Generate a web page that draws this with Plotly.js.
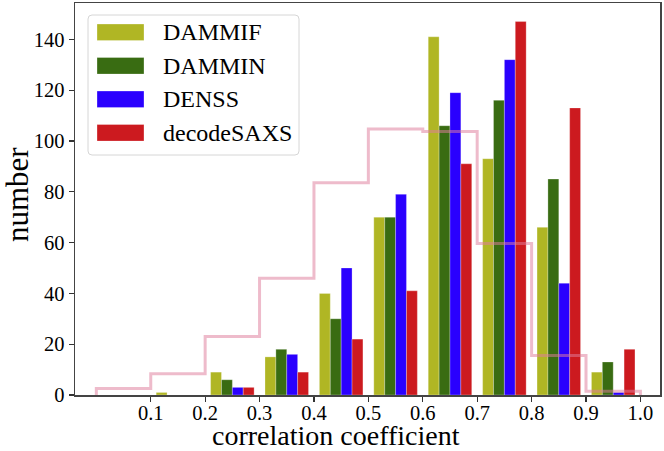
<!DOCTYPE html>
<html>
<head>
<meta charset="utf-8">
<script src="https://cdn.plot.ly/plotly-3.0.1.min.js"></script>
<style>html,body{margin:0;padding:0;background:#fff;}#chart{width:664px;height:451px;}</style>
</head>
<body>
<div id="chart"></div>
<script>
// Bin left edges (correlation coefficient)
var binStarts = [0.0, 0.1, 0.2, 0.3, 0.4, 0.5, 0.6, 0.7, 0.8, 0.9];
var binEdges = [0.0, 0.1, 0.2, 0.3, 0.4, 0.5, 0.6, 0.7, 0.8, 0.9, 1.0];
var seriesNames = ["DAMMIF", "DAMMIN", "DENSS", "decodeSAXS"];
var dammif = [0, 1, 9, 15, 40, 70, 141, 93, 66, 9];
var dammin = [0, 0, 6, 18, 30, 70, 106, 116, 85, 13];
var denss = [0, 0, 3, 16, 50, 79, 119, 132, 44, 1];
var decodesaxs = [0, 0, 3, 9, 22, 41, 91, 147, 113, 18];
var reference = [2.6, 8.4, 23, 46, 83.5, 104.7, 103.7, 59.6, 15.5, 1.5];
var xTickVals = [0.1, 0.2, 0.3, 0.4, 0.5, 0.6, 0.7, 0.8, 0.9, 1.0];
var xTickText = ["0.1", "0.2", "0.3", "0.4", "0.5", "0.6", "0.7", "0.8", "0.9", "1.0"];
var yTickVals = [0, 20, 40, 60, 80, 100, 120, 140];
var xTitle = "correlation coefficient";
var yTitle = "number";

var colors = ["#b0b624", "#396c12", "#2a00fe", "#cc1a1f"];
var allSeries = [dammif, dammin, denss, decodesaxs];
var barW = 0.02;
var FONT = "Liberation Serif, Times New Roman, serif";

var traces = [];
allSeries.forEach(function (vals, i) {
  traces.push({
    type: "bar",
    name: seriesNames[i],
    x: binStarts,
    y: vals,
    width: barW,
    offset: 0.01 + i * barW,
    marker: {color: colors[i], line: {width: 0.6, color: "rgba(255,255,255,0.45)"}},
    showlegend: false,
    hoverinfo: "x+y+name"
  });
});

// step outline
var sx = [binEdges[0]], sy = [0];
for (var k = 0; k < reference.length; k++) { sx.push(binEdges[k]); sy.push(reference[k]); }
sx.push(binEdges[binEdges.length - 1]); sy.push(reference[reference.length - 1]);
sx.push(binEdges[binEdges.length - 1]); sy.push(0);
traces.push({
  type: "scatter", mode: "lines", x: sx, y: sy,
  line: {shape: "hv", color: "rgba(222,125,155,0.52)", width: 3},
  showlegend: false, hoverinfo: "skip"
});

// custom legend (plot area: x 75..660, y 3..395 px)
var L = 75, R = 660, T = 3, B = 395;
function px(x) { return (x - L) / (R - L); }
function py(y) { return (B - y) / (B - T); }
var shapes = [];
var annotations = [];
var bx0 = px(88), bx1 = px(299), by0 = py(155), by1 = py(15);
var rx = 4 / (R - L), ry = 4 / (B - T);
shapes.push({
  type: "path", xref: "paper", yref: "paper",
  path: "M " + (bx0 + rx) + "," + by1 + " L " + (bx1 - rx) + "," + by1 +
        " Q " + bx1 + "," + by1 + " " + bx1 + "," + (by1 - ry) +
        " L " + bx1 + "," + (by0 + ry) + " Q " + bx1 + "," + by0 + " " + (bx1 - rx) + "," + by0 +
        " L " + (bx0 + rx) + "," + by0 + " Q " + bx0 + "," + by0 + " " + bx0 + "," + (by0 + ry) +
        " L " + bx0 + "," + (by1 - ry) + " Q " + bx0 + "," + by1 + " " + (bx0 + rx) + "," + by1 + " Z",
  line: {color: "#d6d6d6", width: 1}, fillcolor: "rgba(255,255,255,0.85)", layer: "above"
});
seriesNames.forEach(function (nm, i) {
  var cy = 32.3 + i * 33.5;
  shapes.push({
    type: "rect", xref: "paper", yref: "paper",
    x0: px(97), x1: px(144), y0: py(cy + 8.3), y1: py(cy - 8.3),
    fillcolor: colors[i], line: {width: 0.6, color: "rgba(255,255,255,0.5)"}, layer: "above"
  });
  annotations.push({
    xref: "paper", yref: "paper", x: px(161), y: py(cy), xanchor: "left", yanchor: "middle",
    text: nm, showarrow: false,
    font: {family: FONT, size: 24, color: "#000"}
  });
});
// axis titles
annotations.push({
  xref: "paper", yref: "paper", x: px(336), y: py(452), xanchor: "center", yanchor: "bottom",
  text: xTitle, showarrow: false, font: {family: FONT, size: 28, color: "#000"}, borderpad: 0
});
annotations.push({
  xref: "paper", yref: "paper", x: px(17), y: py(195), xanchor: "center", yanchor: "middle",
  text: yTitle, textangle: -90, showarrow: false, font: {family: FONT, size: 31, color: "#000"}
});

var layout = {
  width: 664, height: 451,
  margin: {l: 75, r: 4, t: 3, b: 56},
  paper_bgcolor: "#fff", plot_bgcolor: "#fff",
  barmode: "overlay",
  font: {family: FONT, color: "#000"},
  xaxis: {
    range: [-0.0392, 1.036],
    tickvals: xTickVals, ticktext: xTickText,
    ticks: "outside", ticklen: 5, tickwidth: 1.2, tickcolor: "#333",
    ticklabelstandoff: -6,
    showline: true, linecolor: "#444", linewidth: 1.5, mirror: true,
    showgrid: false, zeroline: false,
    tickfont: {size: 20.5, family: FONT}
  },
  yaxis: {
    range: [0, 154.3],
    tickvals: yTickVals,
    ticks: "outside", ticklen: 5, tickwidth: 1.2, tickcolor: "#333",
    showline: true, linecolor: "#444", linewidth: 1.5, mirror: true,
    showgrid: false, zeroline: false,
    tickfont: {size: 20.5, family: FONT}
  },
  shapes: shapes,
  annotations: annotations,
  showlegend: false
};

Plotly.newPlot("chart", traces, layout, {displayModeBar: false, staticPlot: true});
</script>
</body>
</html>
